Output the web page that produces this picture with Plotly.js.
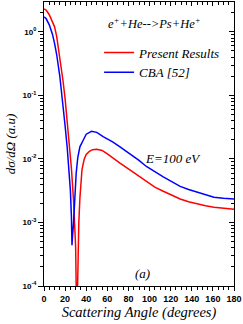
<!DOCTYPE html>
<html>
<head>
<meta charset="utf-8">
<script src="https://cdn.plot.ly/plotly-3.0.1.min.js"></script>
<style>html,body{margin:0;padding:0;background:#fff;}#plot{width:243px;height:324px;}</style>
</head>
<body>
<div id="plot"></div>
<script>
// Scattering angle (degrees) and differential cross sections (a.u.)
const presentAngle = [0, 2, 5, 8, 10, 12, 15, 18, 20, 22, 24, 26, 28, 29, 30, 31, 32, 33, 34, 36, 38, 40, 43, 46, 50, 55, 59, 65, 72, 81, 90, 97, 105, 113, 121, 129, 137, 145, 153, 161, 170, 180];
const presentValue = [2.3, 2.2, 1.86, 1.45, 1.2, 0.85, 0.41, 0.17, 0.088, 0.04, 0.018, 0.007, 0.0022, 0.0011, 0.0004, 0.00002, 0.0003, 0.001, 0.0024, 0.0068, 0.0098, 0.0118, 0.0132, 0.014, 0.0142, 0.0136, 0.0123, 0.0103, 0.0086, 0.0068, 0.0054, 0.0044, 0.0036, 0.0031, 0.0027, 0.00234, 0.00212, 0.00195, 0.00183, 0.00174, 0.00167, 0.00162];
const cbaAngle = [0, 2, 5, 8, 10, 12, 15, 18, 20, 22, 24, 25, 26, 26.5, 27, 28, 29, 30.5, 32, 34, 37, 40, 45, 50, 56, 65, 72, 81, 90, 97, 105, 113, 121, 129, 137, 145, 153, 161, 170, 180];
const cbaValue = [1.72, 1.62, 1.29, 0.92, 0.66, 0.44, 0.2, 0.075, 0.033, 0.015, 0.006, 0.0032, 0.0012, 0.00044, 0.0006, 0.001, 0.0025, 0.006, 0.0105, 0.0155, 0.0195, 0.0245, 0.0272, 0.0262, 0.0224, 0.0186, 0.0155, 0.0123, 0.0095, 0.0076, 0.0062, 0.0052, 0.0044, 0.0037, 0.0033, 0.003, 0.0027, 0.0025, 0.0024, 0.00234];
const seriesNames = ["Present Results", "CBA [52]"];
const yTickVals = [1e-4, 1e-3, 1e-2, 1e-1, 1];
const yTickText = ["<b>10<sup>-4</sup></b>", "<b>10<sup>-3</sup></b>", "<b>10<sup>-2</sup></b>", "<b>10<sup>-1</sup></b>", "<b>10<sup>0</sup></b>"];
const xTickVals = [0, 20, 40, 60, 80, 100, 120, 140, 160, 180];

const serif = "Liberation Serif, Times New Roman, serif";
const sans = "Liberation Sans, Arial, sans-serif";
const yRange = [-4, 0.47];
const xRange = [0, 180];

const traces = [
  {x: presentAngle, y: presentValue, name: seriesNames[0], mode: "lines", line: {color: "#ff0000", width: 1.5}},
  {x: cbaAngle, y: cbaValue, name: seriesNames[1], mode: "lines", line: {color: "#0000ff", width: 1.5}},
  {x: [null], y: [null], xaxis: "x2", yaxis: "y2", showlegend: false, hoverinfo: "skip", mode: "lines"}
];

const layout = {
  width: 243, height: 324,
  margin: {l: 44, r: 9, t: 2, b: 38},
  paper_bgcolor: "#fff", plot_bgcolor: "#fff",
  showlegend: true,
  legend: {x: 0.29, y: 0.875, xanchor: "left", yanchor: "top", bgcolor: "rgba(0,0,0,0)",
           font: {family: serif, size: 13, style: "italic", color: "#000"}, tracegroupgap: 0, itemwidth: 30},
  xaxis: {range: xRange, tickvals: xTickVals, ticks: "outside", ticklen: 4, tickwidth: 1, tickcolor: "#000",
          showline: true, linecolor: "#000", linewidth: 1, showgrid: false, zeroline: false,
          tickfont: {family: sans, size: 9, weight: "bold", color: "#000"},
          minor: {dtick: 5, ticks: "outside", ticklen: 3, tickcolor: "#000", showgrid: false},
          title: {text: "Scattering Angle (degrees)", font: {family: serif, size: 14.5, style: "italic", color: "#000"}, standoff: 1}},
  yaxis: {type: "log", range: yRange, tickvals: yTickVals, ticktext: yTickText, ticks: "outside", ticklen: 5, tickwidth: 1, tickcolor: "#000",
          showline: true, linecolor: "#000", linewidth: 1, showgrid: false, zeroline: false,
          tickfont: {family: sans, size: 8, color: "#000"},
          minor: {ticks: "outside", ticklen: 3, tickcolor: "#000", showgrid: false, dtick: "D1"},
          title: {text: "dσ/dΩ (a.u)", font: {family: serif, size: 13, style: "italic", color: "#000"}, standoff: 3}},
  xaxis2: {overlaying: "x", side: "top", range: xRange, tickvals: xTickVals, ticks: "inside", ticklen: 4, tickcolor: "#000",
           showticklabels: false, showline: true, linecolor: "#000", linewidth: 1, showgrid: false, zeroline: false,
           minor: {dtick: 5, ticks: "inside", ticklen: 3, tickcolor: "#000", showgrid: false}},
  yaxis2: {overlaying: "y", side: "right", type: "log", range: yRange, tickvals: yTickVals, ticks: "inside", ticklen: 5, tickcolor: "#000",
           showticklabels: false, showline: true, linecolor: "#000", linewidth: 1, showgrid: false, zeroline: false,
           minor: {ticks: "inside", ticklen: 3, tickcolor: "#000", showgrid: false, dtick: "D1"}},
  annotations: [
    {xref: "paper", yref: "paper", x: 0.58, y: 0.925, xanchor: "center", yanchor: "middle", showarrow: false,
     text: "e<sup>+</sup>+He-->Ps+He<sup>+</sup>", font: {family: serif, size: 12.5, style: "italic", color: "#000"}},
    {xref: "paper", yref: "paper", x: 0.68, y: 0.45, xanchor: "center", yanchor: "middle", showarrow: false,
     text: "E=100 eV", font: {family: serif, size: 13, style: "italic", color: "#000"}},
    {xref: "paper", yref: "paper", x: 0.52, y: 0.045, xanchor: "center", yanchor: "middle", showarrow: false,
     text: "(a)", font: {family: serif, size: 13, style: "italic", color: "#000"}}
  ]
};

Plotly.newPlot("plot", traces, layout, {staticPlot: true, displayModeBar: false});
</script>
</body>
</html>
